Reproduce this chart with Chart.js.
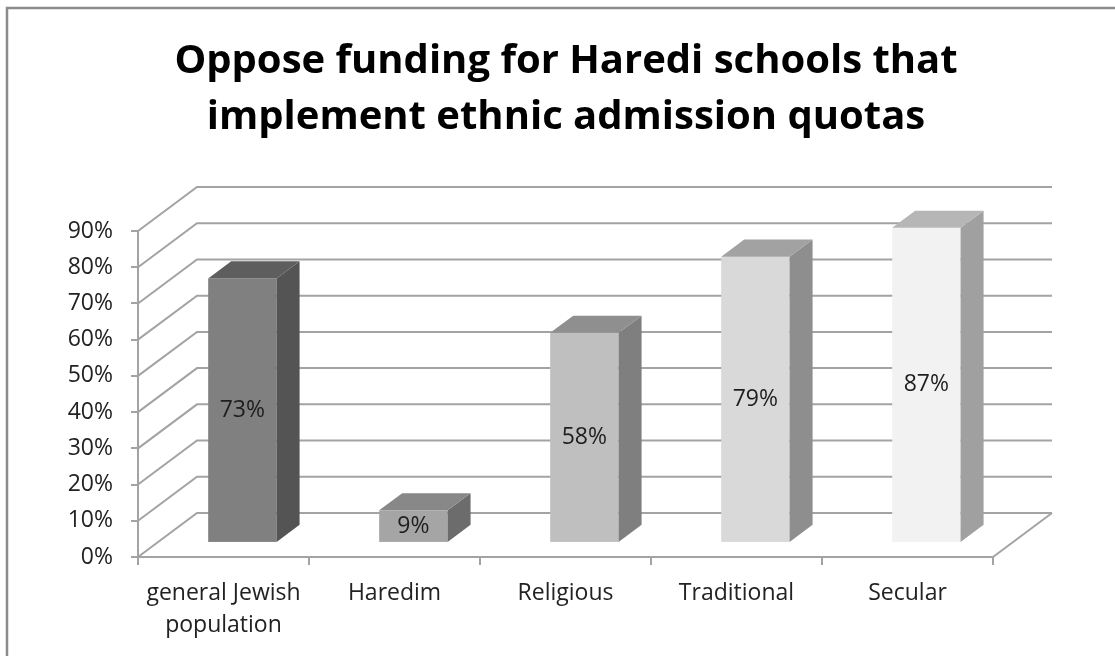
<!DOCTYPE html>
<html>
<head>
<meta charset="utf-8">
<script src="https://cdn.jsdelivr.net/npm/chart.js"></script>
<style>
  html, body { margin: 0; padding: 0; background: #fff; }
  #wrap { width: 1115px; height: 656px; }
</style>
</head>
<body>
<div id="wrap"><canvas id="chart" width="1115" height="656"></canvas></div>
<script>
// survey results
const categories = [['general Jewish', 'population'], 'Haredim', 'Religious', 'Traditional', 'Secular'];
const opposeShare = [73, 9, 58, 79, 87];
const yMax = 90;
const yStep = 10;

// per-bar shading: front face, right side, top
const frontColors = ['#808080', '#a5a5a5', '#bfbfbf', '#d9d9d9', '#f2f2f2'];
const sideColors = ['#545454', '#6c6c6c', '#7f7f7f', '#8e8e8e', '#a0a0a0'];
const topColors = ['#5e5e5e', '#888888', '#8f8f8f', '#a2a2a2', '#b6b6b6'];

const FONT = "'Open Sans', Lato, sans-serif";
const GRID = '#a3a3a3';

// oblique projection of the plot box
const DEPTH_X = 59;
const DEPTH_Y = 44;
const BAR_FRONT = 0.32;
const BAR_BACK = 0.71;

const box3d = {
  id: 'box3d',
  beforeDraw(chart) {
    const ctx = chart.ctx;
    ctx.save();
    ctx.strokeStyle = '#8c8c8c';
    ctx.lineWidth = 2.5;
    ctx.beginPath();
    ctx.moveTo(7, chart.height);
    ctx.lineTo(7, 8);
    ctx.lineTo(chart.width, 8);
    ctx.stroke();
    ctx.restore();
  },
  beforeDatasetsDraw(chart) {
    const ctx = chart.ctx;
    const area = chart.chartArea;
    const y = chart.scales.y;

    ctx.save();
    ctx.strokeStyle = GRID;
    ctx.lineWidth = 2;
    ctx.beginPath();
    y.ticks.forEach(t => {
      const py = y.getPixelForValue(t.value);
      ctx.moveTo(area.left, py);
      ctx.lineTo(area.left + DEPTH_X, py - DEPTH_Y);
      ctx.lineTo(area.right + DEPTH_X, py - DEPTH_Y);
    });
    // floor edge on the right
    ctx.moveTo(area.right, area.bottom);
    ctx.lineTo(area.right + DEPTH_X, area.bottom - DEPTH_Y);
    ctx.stroke();

    const meta = chart.getDatasetMeta(0);
    const fx = DEPTH_X * BAR_FRONT, fy = DEPTH_Y * BAR_FRONT;
    const sx = DEPTH_X * (BAR_BACK - BAR_FRONT), sy = DEPTH_Y * (BAR_BACK - BAR_FRONT);
    meta.data.forEach((bar, i) => {
      const p = bar.getProps(['x', 'y', 'base', 'width'], true);
      const l = p.x - p.width / 2 + fx;
      const r = p.x + p.width / 2 + fx;
      const t = p.y - fy;
      const b = p.base - fy;

      ctx.fillStyle = frontColors[i];
      ctx.fillRect(l, t, r - l, b - t);

      ctx.fillStyle = sideColors[i];
      ctx.beginPath();
      ctx.moveTo(r, t);
      ctx.lineTo(r + sx, t - sy);
      ctx.lineTo(r + sx, b - sy);
      ctx.lineTo(r, b);
      ctx.closePath();
      ctx.fill();

      ctx.fillStyle = topColors[i];
      ctx.beginPath();
      ctx.moveTo(l, t);
      ctx.lineTo(l + sx, t - sy);
      ctx.lineTo(r + sx, t - sy);
      ctx.lineTo(r, t);
      ctx.closePath();
      ctx.fill();

      ctx.fillStyle = '#1e1e1e';
      ctx.font = '23px ' + FONT;
      ctx.textAlign = 'center';
      ctx.textBaseline = 'middle';
      ctx.fillText(opposeShare[i] + '%', (l + r) / 2, (t + b) / 2);
    });
    ctx.restore();
    return false;
  }
};

new Chart(document.getElementById('chart'), {
  type: 'bar',
  data: {
    labels: categories,
    datasets: [{
      data: opposeShare,
      backgroundColor: frontColors,
      categoryPercentage: 1,
      barPercentage: 0.4
    }]
  },
  options: {
    responsive: false,
    animation: false,
    layout: { padding: { top: 0, right: 0, bottom: 0, left: 17 } },
    plugins: {
      legend: { display: false },
      tooltip: { enabled: false },
      title: {
        display: true,
        text: ['Oppose funding for Haredi schools that', 'implement ethnic admission quotas'],
        color: '#000',
        font: { family: FONT, size: 40, weight: 'bold', lineHeight: 1.4 },
        padding: { top: 34, bottom: 85 }
      }
    },
    scales: {
      x: {
        grid: { drawOnChartArea: false, color: GRID, lineWidth: 2, tickLength: 8, offset: true },
        border: { color: GRID, width: 2 },
        ticks: { color: '#222', font: { family: FONT, size: 23, lineHeight: 1.37 }, padding: 13, maxRotation: 0 },
        afterFit(scale) { scale.height = 99; }
      },
      y: {
        min: 0,
        max: yMax,
        grid: { drawOnChartArea: false, color: GRID, lineWidth: 2, tickLength: 7 },
        border: { color: GRID, width: 2 },
        ticks: {
          stepSize: yStep,
          color: '#222',
          font: { family: FONT, size: 23 },
          padding: 18,
          callback: v => v + '%'
        },
        afterFit(scale) { scale.width = 121; }
      },
      // keeps space free on the right for the depth of the box
      y2: {
        position: 'right',
        grid: { display: false },
        border: { display: false },
        ticks: { display: false },
        afterFit(scale) { scale.width = 122; }
      }
    }
  },
  plugins: [box3d]
});
</script>
</body>
</html>
